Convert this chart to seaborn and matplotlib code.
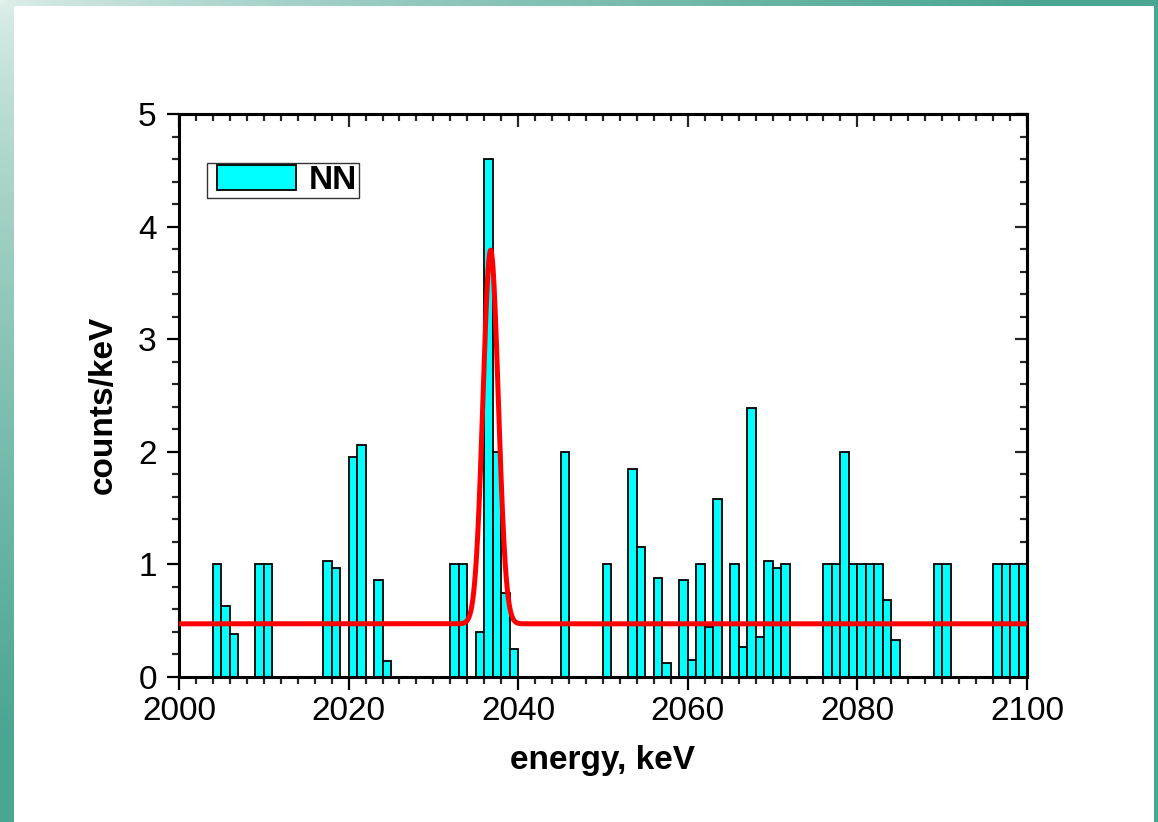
import numpy as np
import pandas as pd
import matplotlib
matplotlib.use("Agg")
import matplotlib.pyplot as plt
import matplotlib.patches as mpatches
from matplotlib.patches import Rectangle
from matplotlib.legend_handler import HandlerPatch
from matplotlib.ticker import MultipleLocator
import seaborn as sns

# Spectrum: left edge of each 1 keV bin and its content (counts/keV)
bin_left = [2004, 2005, 2006, 2009, 2010, 2017, 2018, 2020, 2021, 2023, 2024,
            2032, 2033, 2035, 2036, 2037, 2038, 2039, 2045, 2050, 2053, 2054,
            2056, 2057, 2059, 2060, 2061, 2062, 2063, 2065, 2066, 2067, 2068,
            2069, 2070, 2071, 2076, 2077, 2078, 2079, 2080, 2081, 2082, 2083,
            2084, 2089, 2090, 2096, 2097, 2098, 2099]
counts = [1.00, 0.63, 0.375, 1.00, 1.00, 1.03, 0.97, 1.95, 2.06, 0.86, 0.14,
          1.00, 1.00, 0.40, 4.60, 2.00, 0.74, 0.25, 2.00, 1.00, 1.85, 1.15,
          0.88, 0.12, 0.86, 0.15, 1.00, 0.44, 1.58, 1.00, 0.26, 2.39, 0.35,
          1.03, 0.97, 1.00, 1.00, 1.00, 2.00, 1.00, 1.00, 1.00, 1.00, 0.68,
          0.33, 1.00, 1.00, 1.00, 1.00, 1.00, 1.00]

# Fit: flat background plus a Gaussian line
fit_background = 0.47
fit_amplitude = 3.32
fit_center = 2036.75
fit_sigma = 0.90

x_ticks = [2000, 2020, 2040, 2060, 2080, 2100]
y_ticks = [0, 1, 2, 3, 4, 5]

BAR_COLOR = "#00ffff"

sns.set_theme(style="ticks")
plt.rcParams["font.family"] = ["Liberation Sans", "DejaVu Sans"]
plt.rcParams["axes.linewidth"] = 2.0
plt.rcParams["text.color"] = "black"
plt.rcParams["axes.labelcolor"] = "black"

fig = plt.figure(figsize=(11.58, 8.22), dpi=100)

# Slide-style backdrop: teal gradient with a white panel
bg = fig.add_axes([0, 0, 1, 1], zorder=-10)
H, W = 200, 280
yy, xx = np.mgrid[0:H, 0:W]
d = np.sqrt((xx / W) ** 2 + (yy / H) ** 2)
t = np.clip(d / 0.9, 0, 1) ** 0.7
light = np.array([226, 240, 236]) / 255
teal = np.array([74, 165, 145]) / 255
grad = light[None, None, :] * (1 - t[..., None]) + teal[None, None, :] * t[..., None]
bg.imshow(grad, extent=[0, 1, 0, 1], origin="upper", aspect="auto")
bg.add_patch(Rectangle((14 / 1158, 0), (1154 - 14) / 1158, 1 - 6 / 822,
                       facecolor="white", edgecolor="none"))
bg.set_xlim(0, 1)
bg.set_ylim(0, 1)
bg.axis("off")

ax = fig.add_axes([179 / 1158, 1 - 676.7 / 822, (1027 - 179) / 1158, (676.7 - 114) / 822])
ax.set_facecolor("white")

df = pd.DataFrame({"energy": np.array(bin_left) + 0.5, "counts": counts})
sns.histplot(data=df, x="energy", weights="counts", binwidth=1, binrange=(2000, 2100),
             color=BAR_COLOR, edgecolor="black", linewidth=1.3, alpha=1.0,
             ax=ax, zorder=2)

xs = np.linspace(2000, 2100, 4001)
ys = fit_background + fit_amplitude * np.exp(-0.5 * ((xs - fit_center) / fit_sigma) ** 2)
sns.lineplot(x=xs, y=ys, color="#ff0000", linewidth=3.6, ax=ax, zorder=3)

ax.set_xlim(2000, 2100)
ax.set_ylim(0, 5)
ax.set_xticks(x_ticks)
ax.set_yticks(y_ticks)
ax.xaxis.set_minor_locator(MultipleLocator(2))
ax.yaxis.set_minor_locator(MultipleLocator(0.2))
ax.tick_params(which="major", direction="out", length=9, width=1.6,
               labelsize=24, colors="black")
ax.tick_params(which="minor", direction="out", length=5, width=1.6)
ax.tick_params(axis="x", which="major", pad=5)
ax.tick_params(axis="y", which="major", pad=7)

for side in ["top", "right", "left", "bottom"]:
    ax.spines[side].set_visible(True)
    ax.spines[side].set_color("black")
    ax.spines[side].set_linewidth(2.2)

# Inward ticks on the top and right edges
top = ax.secondary_xaxis("top")
top.set_xticks(x_ticks)
top.xaxis.set_minor_locator(MultipleLocator(2))
top.tick_params(which="major", direction="in", length=9, width=1.6, labeltop=False)
top.tick_params(which="minor", direction="in", length=5, width=1.6)
top.spines["top"].set_linewidth(2.2)

right = ax.secondary_yaxis("right")
right.set_yticks(y_ticks)
right.yaxis.set_minor_locator(MultipleLocator(0.2))
right.tick_params(which="major", direction="in", length=9, width=1.6, labelright=False)
right.tick_params(which="minor", direction="in", length=5, width=1.6)
right.spines["right"].set_linewidth(2.2)

ax.set_xlabel("energy, keV", fontsize=24, fontweight="bold", labelpad=13, color="black")
ax.set_ylabel("counts/keV", fontsize=24, fontweight="bold", labelpad=14, color="black")
ax.yaxis.label.set_y(0.483)

nn_handle = mpatches.Patch(facecolor=BAR_COLOR, edgecolor="black", linewidth=1.3)
leg = ax.legend([nn_handle], ["NN"], loc="upper left",
                bbox_to_anchor=(0.033, 0.913), borderaxespad=0,
                fancybox=False, frameon=True, edgecolor="black",
                handlelength=2.61, handleheight=0.75, handletextpad=0.39,
                borderpad=0.06, prop={"weight": "bold", "size": 24},
                handler_map={mpatches.Patch: HandlerPatch(xpad=0.24)})
leg.get_frame().set_linewidth(1.0)
for txt in leg.get_texts():
    txt.set_color("black")

fig.savefig("out.png", dpi=100)
